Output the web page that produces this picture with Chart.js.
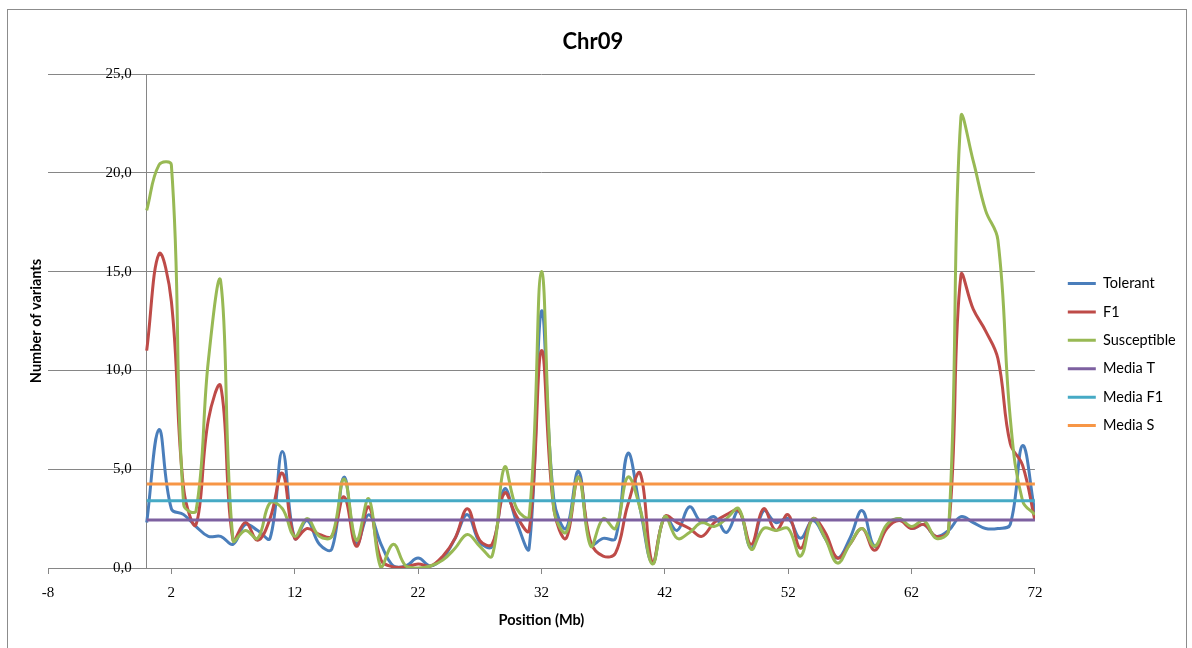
<!DOCTYPE html>
<html>
<head>
<meta charset="utf-8">
<title>Chr09</title>
<script src="https://cdn.jsdelivr.net/npm/chart.js@4"></script>
<style>
  html, body { margin: 0; padding: 0; background: #fff; }
  #wrap { width: 1192px; height: 648px; }
</style>
</head>
<body>
<div id="wrap"><canvas id="chr09Chart" width="1192" height="648"></canvas></div>
<script>
// positions in Mb (one value per bin)
const positions = [0, 1, 2, 3, 4, 5, 6, 7, 8, 9, 10, 11, 12, 13, 14, 15, 16, 17, 18, 19,
  20, 21, 22, 23, 24, 25, 26, 27, 28, 29, 30, 31, 32, 33, 34, 35, 36, 37, 38, 39,
  40, 41, 42, 43, 44, 45, 46, 47, 48, 49, 50, 51, 52, 53, 54, 55, 56, 57, 58, 59,
  60, 61, 62, 63, 64, 65, 66, 67, 68, 69, 70, 71, 72];

const tolerant = [2.3, 7.0, 3.0, 2.7, 2.1, 1.6, 1.6, 1.2, 2.2, 1.9, 1.5, 5.9, 1.5, 2.4, 1.2, 0.95, 4.6, 1.2, 2.7, 1.2,
  0.1, 0.1, 0.5, 0.1, 0.5, 1.5, 2.7, 1.3, 1.1, 4.0, 2.3, 1.0, 13.0, 3.5, 2.0, 4.9, 1.2, 1.5, 1.5, 5.8,
  3.0, 0.25, 2.6, 1.9, 3.1, 2.3, 2.6, 1.8, 2.9, 1.0, 2.9, 2.3, 2.5, 1.5, 2.4, 1.5, 0.5, 1.5, 2.9, 1.1,
  2.1, 2.5, 2.0, 2.2, 1.6, 1.9, 2.6, 2.3, 2.0, 2.0, 2.2, 6.2, 2.8];

const f1 = [11.0, 15.9, 13.5, 4.0, 2.2, 7.5, 9.2, 1.4, 2.3, 1.4, 2.5, 4.8, 1.5, 2.0, 1.7, 1.6, 3.6, 1.1, 3.1, 0.4,
  0.05, 0.05, 0.2, 0.1, 0.6, 1.5, 3.0, 1.4, 1.2, 3.8, 2.6, 1.9, 11.0, 3.0, 1.5, 4.6, 1.3, 0.6, 0.75, 3.2,
  4.8, 0.25, 2.6, 2.3, 2.0, 1.6, 2.3, 2.7, 2.9, 1.2, 3.0, 1.9, 2.7, 1.0, 2.5, 1.8, 0.5, 1.2, 2.0, 0.9,
  2.0, 2.4, 2.0, 2.2, 1.6, 1.9, 14.8, 13.1, 12.0, 10.6, 6.3, 5.2, 2.4];

const susceptible = [18.1, 20.4, 20.4, 3.2, 2.9, 10.5, 14.5, 1.4, 1.9, 1.5, 3.3, 3.0, 1.6, 2.5, 1.6, 1.6, 4.5, 1.4, 3.5, 0.0,
  1.2, 0.1, 0.0, 0.1, 0.4, 1.0, 1.7, 1.1, 0.6, 5.1, 3.0, 2.6, 15.0, 3.0, 1.8, 4.6, 1.1, 2.5, 2.0, 4.6,
  3.0, 0.2, 2.6, 1.5, 1.8, 2.3, 2.1, 2.5, 3.0, 0.95, 2.0, 1.9, 2.0, 0.6, 2.5, 1.5, 0.25, 1.2, 2.0, 1.1,
  2.2, 2.5, 2.1, 2.4, 1.5, 1.9, 22.8, 20.6, 18.1, 16.6, 7.6, 3.4, 2.7];

// averages, drawn from first to last position
const mediaRange = [0, 72];
const mediaT = 2.43;
const mediaF1 = 3.40;
const mediaS = 4.25;

const xTickValues = [-8, 2, 12, 22, 32, 42, 52, 62, 72];

function toPoints(values) {
  return positions.map((p, i) => ({ x: p, y: values[i] }));
}

function flatLine(value) {
  return mediaRange.map(p => ({ x: p, y: value }));
}

// outer frame + rotated y title
const frameAndYTitle = {
  id: 'frameAndYTitle',
  beforeDraw(chart) {
    const ctx = chart.ctx;
    ctx.save();
    ctx.fillStyle = '#ffffff';
    ctx.fillRect(0, 0, chart.width, chart.height);
    ctx.strokeStyle = '#8c8c8c';
    ctx.lineWidth = 1;
    ctx.strokeRect(7.5, 9.5, 1179, 640);
    ctx.restore();
  },
  afterDraw(chart) {
    const { ctx, chartArea } = chart;
    ctx.save();
    ctx.translate(36, (chartArea.top + chartArea.bottom) / 2);
    ctx.rotate(-Math.PI / 2);
    ctx.font = 'bold 14.5px Lato';
    ctx.fillStyle = '#000';
    ctx.textAlign = 'center';
    ctx.textBaseline = 'middle';
    ctx.fillText('Number of variants', 0, 0);
    ctx.restore();
  }
};

const lineStyle = { borderWidth: 3, pointRadius: 0, pointHoverRadius: 0, tension: 0.4, fill: false };

const ctx = document.getElementById('chr09Chart').getContext('2d');
new Chart(ctx, {
  type: 'line',
  data: {
    datasets: [
      { label: 'Tolerant', data: toPoints(tolerant), borderColor: '#4a7ebb', backgroundColor: '#4a7ebb', order: 6, ...lineStyle },
      { label: 'F1', data: toPoints(f1), borderColor: '#be4b48', backgroundColor: '#be4b48', order: 5, ...lineStyle },
      { label: 'Susceptible', data: toPoints(susceptible), borderColor: '#98b954', backgroundColor: '#98b954', order: 4, ...lineStyle },
      { label: 'Media T', data: flatLine(mediaT), borderColor: '#7d60a0', backgroundColor: '#7d60a0', order: 3, ...lineStyle, tension: 0 },
      { label: 'Media F1', data: flatLine(mediaF1), borderColor: '#46aac5', backgroundColor: '#46aac5', order: 2, ...lineStyle, tension: 0 },
      { label: 'Media S', data: flatLine(mediaS), borderColor: '#f79646', backgroundColor: '#f79646', order: 1, ...lineStyle, tension: 0 }
    ]
  },
  options: {
    responsive: false,
    animation: false,
    layout: { padding: { left: 0, right: 6.25, top: 0, bottom: 13.6 } },
    plugins: {
      title: {
        display: true,
        text: 'Chr09',
        color: '#000',
        font: { family: 'Lato', size: 22, weight: 'bold' },
        padding: { top: 29, bottom: 18.6 }
      },
      legend: {
        position: 'right',
        align: 'start',
        title: { display: true, text: ' ', padding: { top: 248, bottom: 0 } },
        labels: {
          usePointStyle: true,
          pointStyle: 'line',
          pointStyleWidth: 28,
          color: '#000',
          font: { family: 'Lato', size: 14.5 },
          padding: 13.9,
          sort: (a, b) => a.datasetIndex - b.datasetIndex
        }
      },
      tooltip: { enabled: false }
    },
    scales: {
      x: {
        type: 'linear',
        min: -8,
        max: 72,
        afterBuildTicks: s => { s.ticks = xTickValues.map(v => ({ value: v })); },
        afterFit: s => { s.paddingLeft = 48; },
        ticks: {
          autoSkip: false,
          maxRotation: 0,
          padding: 10,
          color: '#000',
          font: { family: 'Liberation Serif', size: 15 },
          callback: v => String(v)
        },
        grid: { drawOnChartArea: false, tickLength: 6, color: '#868686' },
        border: { color: '#868686' },
        title: {
          display: true,
          text: 'Position (Mb)',
          color: '#000',
          font: { family: 'Lato', size: 14.5, weight: 'bold' },
          padding: { top: 0, bottom: 5 }
        }
      },
      y: {
        position: { x: 0 },
        min: 0,
        max: 25,
        ticks: {
          stepSize: 5,
          color: '#000',
          font: { family: 'Liberation Serif', size: 15 },
          // trailing spaces keep the labels off the axis line
          callback: v => v.toFixed(1).replace('.', ',') + '    '
        },
        grid: { color: '#868686', drawTicks: false },
        border: { color: '#868686' }
      },
      // empty spacer between the plot and the legend
      gap: {
        type: 'linear',
        position: 'right',
        afterFit: s => { s.width = 19; },
        ticks: { display: false },
        grid: { display: false, drawTicks: false },
        border: { display: false }
      }
    }
  },
  plugins: [frameAndYTitle]
});
</script>
</body>
</html>
